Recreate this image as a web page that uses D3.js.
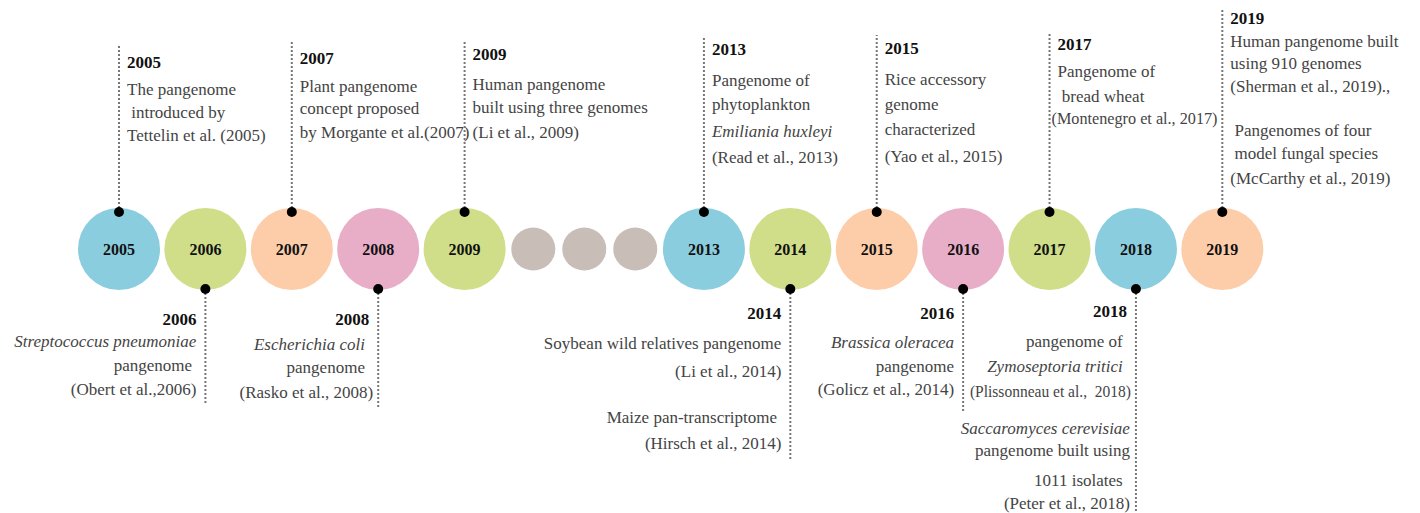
<!DOCTYPE html>
<html>
<head>
<meta charset="utf-8">
<script src="https://cdn.jsdelivr.net/npm/d3@7"></script>
<style>
  body { margin: 0; background: #fff; }
  svg { display: block; }
</style>
</head>
<body>
<div id="chart"></div>
<script>
// timeline nodes, null = the grey "skipped years" dots
var nodes = [2005, 2006, 2007, 2008, 2009, null, null, null, 2013, 2014, 2015, 2016, 2017, 2018, 2019];
var palette = ["#89cddf", "#d0de8a", "#fdcda9", "#e8aec8", "#d0de8a", "#c8bdb7", "#c8bdb7", "#c8bdb7",
               "#89cddf", "#d0de8a", "#fdcda9", "#e8aec8", "#d0de8a", "#89cddf", "#fdcda9"];

// label texts ({i:true} = italic, dx = small nudge, w = squeezed width)
var eventYears = [2005, 2006, 2007, 2008, 2009, 2013, 2014, 2015, 2016, 2017, 2018, 2019];
var eventSides = ["top", "bottom", "top", "bottom", "top", "top", "bottom", "top", "bottom", "top", "bottom", "top"];
var eventLines = [
  ["The pangenome", " introduced by", "Tettelin et al. (2005)"],
  [{t: "Streptococcus pneumoniae", i: true}, "pangenome ", "(Obert et al.,2006)"],
  ["Plant pangenome", "concept proposed", "by Morgante et al.(2007)"],
  [{t: "Escherichia coli ", i: true}, "pangenome ", {t: "(Rasko et al., 2008)", dx: 4}],
  ["Human pangenome", "built using three genomes", "(Li et al., 2009)"],
  ["Pangenome of", "phytoplankton", {t: "Emiliania huxleyi", i: true}, "(Read et al., 2013)"],
  ["Soybean wild relatives pangenome", "(Li et al., 2014)", "Maize pan-transcriptome ", "(Hirsch et al., 2014)"],
  ["Rice accessory", "genome", "characterized", "(Yao et al., 2015)"],
  [{t: "Brassica oleracea", i: true}, "pangenome", "(Golicz et al., 2014)"],
  ["Pangenome of", " bread wheat", {t: "(Montenegro et al., 2017)", dx: -6, w: 166}],
  ["pangenome of ", {t: "Zymoseptoria tritici ", i: true}, {t: "(Plissonneau et al.,  2018)", dx: 4, w: 161},
   {t: "Saccaromyces cerevisiae", i: true, dx: 3}, {t: "pangenome built using", dx: 3}, "1011 isolates ", {t: "(Peter et al., 2018)", dx: 3}],
  ["Human pangenome built", "using 910 genomes", "(Sherman et al., 2019).,",
   " Pangenomes of four", " model fungal species", "(McCarthy et al., 2019)"]
];

// layout of the annotation blocks
var titleY = [62, 319, 58, 319, 54, 49, 313, 48, 313, 44, 311, 18];
var lineY = [
  [89, 112, 135],
  [341, 365, 389],
  [86, 108, 132],
  [344, 367, 392],
  [84, 107, 132],
  [80, 104, 131, 157],
  [343, 371, 417, 443],
  [79, 104, 129, 156],
  [342, 366, 389],
  [71, 96, 118],
  [341, 366, 391, 428, 450, 480, 503],
  [41, 63, 86, 130, 153, 178]
];
var stemEnd = [45, 403, 42, 408, 40, 37, 461, 35, 411, 33, 513, 10];

var W = 1420, H = 513;
var cy = 249, R = 41, r = 22;
var unitPx = 86.4, gapUnit = 0.59;

var svg = d3.select("#chart").append("svg")
  .attr("width", W)
  .attr("height", H);

// cumulative slot widths -> x positions
var units = nodes.map(function(d) { return d === null ? gapUnit : 1; });
var cum = d3.cumsum(units);
var total = cum[cum.length - 1];
var x0 = 119 - unitPx / 2;
var x = d3.scaleLinear().domain([0, total]).range([x0, x0 + total * unitPx]);
var centerX = nodes.map(function(d, i) { return x(cum[i] - units[i] / 2); });
var xOfYear = {};
nodes.forEach(function(d, i) { if (d !== null) xOfYear[d] = centerX[i]; });

var nodeG = svg.selectAll("g.node")
  .data(nodes)
  .enter().append("g")
    .attr("class", "node")
    .attr("transform", function(d, i) { return "translate(" + centerX[i] + "," + cy + ")"; });

nodeG.append("ellipse")
  .attr("rx", function(d) { return d === null ? r : R; })
  .attr("ry", function(d) { return d === null ? r - 0.5 : R; })
  .attr("fill", function(d, i) { return palette[i]; });

nodeG.filter(function(d) { return d !== null; })
  .append("text")
    .attr("text-anchor", "middle")
    .attr("dy", "0.35em")
    .style("font-family", "'Liberation Serif', serif")
    .style("font-weight", "bold")
    .style("font-size", "16px")
    .attr("fill", "#111")
    .text(function(d) { return d; });

// annotations
var events = eventYears.map(function(y, i) {
  return { year: y, side: eventSides[i], lines: eventLines[i], idx: i };
});

var ev = svg.selectAll("g.event")
  .data(events)
  .enter().append("g")
    .attr("class", "event");

function dotY(d) { return d.side == "top" ? cy - 37 : cy + 40; }

ev.append("line")
  .attr("x1", function(d) { return xOfYear[d.year]; })
  .attr("x2", function(d) { return xOfYear[d.year]; })
  .attr("y1", dotY)
  .attr("y2", function(d) { return stemEnd[d.idx]; })
  .attr("stroke", "#777")
  .attr("stroke-width", 2)
  .attr("stroke-dasharray", "2,2");

ev.append("circle")
  .attr("cx", function(d) { return xOfYear[d.year]; })
  .attr("cy", dotY)
  .attr("r", 5)
  .attr("fill", "#000");

function tx(d) {
  return d.side == "top" ? xOfYear[d.year] + 8 : xOfYear[d.year] - 9;
}

ev.append("text")
  .attr("x", tx)
  .attr("y", function(d) { return titleY[d.idx]; })
  .attr("dy", "0.35em")
  .attr("text-anchor", function(d) { return d.side == "top" ? "start" : "end"; })
  .style("font-family", "'Liberation Serif', serif")
  .style("font-weight", "bold")
  .style("font-size", "17px")
  .attr("fill", "#111")
  .text(function(d) { return d.year; });

ev.each(function(d) {
  var t = d3.select(this).selectAll("text.desc")
    .data(d.lines)
    .enter().append("text")
      .attr("class", "desc")
      .attr("x", function(l) { return tx(d) + (typeof l === "object" && l.dx ? l.dx : 0); })
      .attr("y", function(l, j) { return lineY[d.idx][j]; })
      .attr("dy", "0.35em")
      .attr("text-anchor", d.side == "top" ? "start" : "end")
      .style("font-family", "'Liberation Serif', serif")
      .style("font-size", "17px")
      .style("font-style", function(l) { return typeof l === "object" && l.i ? "italic" : "normal"; })
      .style("white-space", "pre")
      .attr("fill", "#444")
      .text(function(l) { return typeof l === "object" ? l.t : l; });
  t.filter(function(l) { return typeof l === "object" && l.w; })
    .attr("textLength", function(l) { return l.w; })
    .attr("lengthAdjust", "spacingAndGlyphs");
});
</script>
</body>
</html>
